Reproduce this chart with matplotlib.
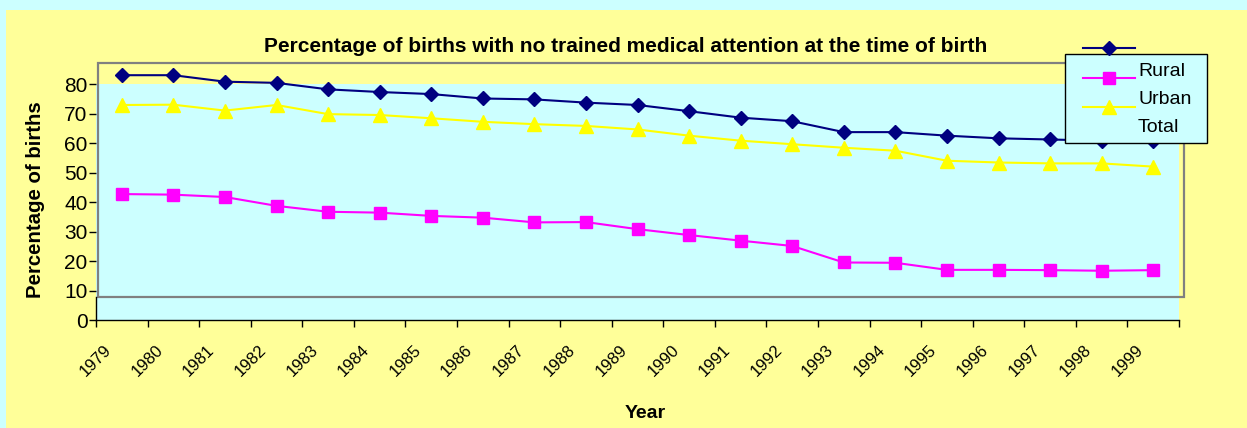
import matplotlib
matplotlib.use("Agg")
import matplotlib.pyplot as plt
from matplotlib.patches import Rectangle
from matplotlib.lines import Line2D

plt.rcParams['font.family'] = ['Liberation Sans', 'DejaVu Sans']

years = [str(y) for y in range(1979, 2000)]
total = [83.0, 83.0, 80.8, 80.4, 78.2, 77.3, 76.6, 75.1, 74.8, 73.7, 72.9,
         70.8, 68.6, 67.4, 63.7, 63.7, 62.5, 61.6, 61.2, 60.8, 60.8]
urban = [72.9, 73.0, 71.0, 72.9, 69.8, 69.5, 68.4, 67.2, 66.4, 65.8, 64.6,
         62.5, 60.8, 59.6, 58.4, 57.4, 54.0, 53.4, 53.1, 53.1, 52.0]
rural = [42.7, 42.5, 41.7, 38.7, 36.7, 36.4, 35.3, 34.7, 33.1, 33.2, 30.8,
         28.8, 26.9, 25.1, 19.5, 19.4, 17.0, 17.0, 16.9, 16.7, 16.9]
legend_labels = ['', 'Rural', 'Urban', 'Total']
yticks = [0, 10, 20, 30, 40, 50, 60, 70, 80]

W, H = 1247, 428
fig = plt.figure(figsize=(W / 100, H / 100), dpi=100)
fig.patch.set_facecolor('#CCFFFF')
fig.add_artist(Rectangle((6 / W, 0), 1, 1 - 10 / H, transform=fig.transFigure,
                         facecolor='#FFFF99', edgecolor='none', zorder=-10))

ax = fig.add_axes([96 / W, (H - 320) / H, 1083 / W, 256.6 / H])
ax.set_facecolor('none')
n = len(years)
xs = list(range(n))
ax.set_xlim(-0.5, n - 0.5)
ax.set_ylim(0, 87)

# plot area fill (0..80) and offset grey frame
ax.add_patch(Rectangle((-0.5, 0), n, 80, facecolor='#CCFFFF', edgecolor='none', zorder=0))
ax.add_patch(Rectangle((-0.46, 7.8), n + 0.06, 87 - 7.8, facecolor='none',
                       edgecolor='#808080', linewidth=1.6, zorder=1, clip_on=False))

styles = [
    dict(color='#000080', marker='D', markersize=6.7, linewidth=1.5),
    dict(color='#FF00FF', marker='s', markersize=9, linewidth=1.5),
    dict(color='#FFFF00', marker='^', markersize=9.5, linewidth=1.5),
]
ax.plot(xs, total, zorder=3, clip_on=False, **styles[0])
ax.plot(xs, urban, zorder=3, clip_on=False, **styles[2])
ax.plot(xs, rural, zorder=3, clip_on=False, **styles[1])

for s in ['top', 'right']:
    ax.spines[s].set_visible(False)
ax.spines['left'].set_bounds(0, 7.8)
ax.spines['left'].set_linewidth(1.0)
ax.spines['bottom'].set_linewidth(1.0)

ax.set_yticks(yticks)
ax.set_yticklabels([str(v) for v in yticks], fontsize=15)
ax.tick_params(axis='y', direction='out', length=5, width=1, pad=1)

ticks = [i - 0.5 for i in range(n + 1)]
ax.set_xticks(ticks)
ax.set_xticklabels(years + [''], fontsize=12, rotation=45, ha='center', va='top')
ax.tick_params(axis='x', direction='out', length=5, width=1, pad=11)

ax.set_xlabel('Year', fontsize=14, fontweight='bold', labelpad=0)
ax.xaxis.set_label_coords((645 - 96) / 1083, -(405 - 320) / 256.6)
ax.set_ylabel('Percentage of births', fontsize=14.7, fontweight='bold')
ax.yaxis.set_label_coords(-(96 - 45) / 1083, (320 - 200) / 256.6)

fig.text(626 / W, 1 - 46 / H, 'Percentage of births with no trained medical attention at the time of birth',
         fontsize=15, fontweight='bold', ha='center', va='center')

# legend (Excel-style: box, entries with handle below text centre, first entry above box)
fig.add_artist(Rectangle((1065 / W, 1 - 143 / H), 142 / W, 89 / H, transform=fig.transFigure,
                         facecolor='#CCFFFF', edgecolor='black', linewidth=1.0, zorder=5))
handle_y = [48, 78, 107]
text_y = [42, 71, 100, 128]
for k, st in enumerate(styles):
    yy = 1 - handle_y[k] / H
    fig.add_artist(Line2D([1083 / W, 1109 / W, 1135 / W], [yy, yy, yy], transform=fig.transFigure,
                          markevery=[1], zorder=6, **st))
for k, lab in enumerate(legend_labels):
    fig.text(1138 / W, 1 - text_y[k] / H, lab, fontsize=14, ha='left', va='center', zorder=7)

fig.savefig('out.png', dpi=100)
